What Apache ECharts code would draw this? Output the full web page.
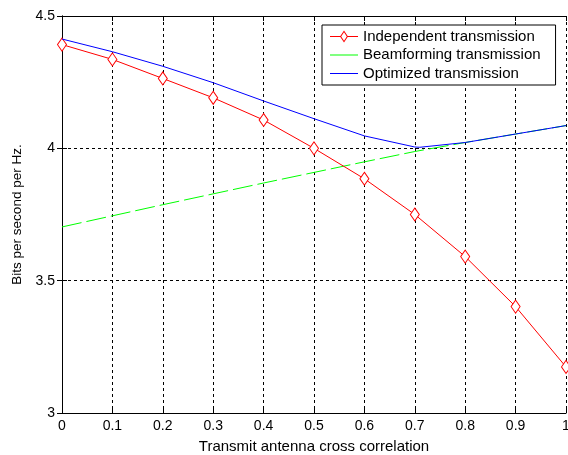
<!DOCTYPE html>
<html>
<head>
<meta charset="utf-8">
<script src="https://cdn.jsdelivr.net/npm/echarts@6/dist/echarts.min.js"></script>
<style>html,body{margin:0;padding:0;background:#fff;}#c{width:568px;height:455px;}</style>
</head>
<body>
<div id="c"></div>
<script>
var xs = [0, 0.1, 0.2, 0.3, 0.4, 0.5, 0.6, 0.7, 0.8, 0.9, 1.0];
var independent = [4.392, 4.336, 4.264, 4.191, 4.107, 4.000, 3.885, 3.750, 3.591, 3.402, 3.174];
var beamforming = [3.703, 3.745, 3.787, 3.828, 3.869, 3.909, 3.949, 3.988, 4.022, 4.054, 4.086];
var optimizedX = [0, 0.1, 0.2, 0.3, 0.4, 0.5, 0.6, 0.7, 0.71, 0.8, 0.9, 1.0];
var optimized = [4.413, 4.365, 4.310, 4.248, 4.179, 4.112, 4.047, 4.005, 4.004, 4.022, 4.054, 4.086];
var xTicks = ['0','0.1','0.2','0.3','0.4','0.5','0.6','0.7','0.8','0.9','1'];
var yTicks = ['3','3.5','4','4.5'];

function pairs(a, b) { return a.map(function (v, i) { return [v, b[i]]; }); }

var font = 'Arial, "Liberation Sans", sans-serif';
var lineIcon = 'path://M0,0 M28,14 M0,6.5 L28,6.5 L28,7.5 L0,7.5 Z';
var diamondIcon = 'path://M0,0 M28,14 M0,6.5 L10.4,6.5 L10.4,7.5 L0,7.5 Z ' +
  'M17.6,6.5 L28,6.5 L28,7.5 L17.6,7.5 Z ' +
  'M14,1 L18,7 L14,13 L10,7 Z M14,2.8 L11.2,7 L14,11.2 L16.8,7 Z';
var iconStyle = function (c) { return { color: c, borderWidth: 0, borderColor: 'transparent' }; };
var chart = echarts.init(document.getElementById('c'));
chart.setOption({
  animation: false,
  backgroundColor: '#fff',
  textStyle: { fontFamily: font },
  grid: { left: 62, right: 2, top: 16, bottom: 42, containLabel: false, outerBoundsMode: 'none' },
  legend: {
    orient: 'vertical',
    left: 322, top: 25,
    backgroundColor: '#fff',
    borderColor: '#000', borderWidth: 1, borderRadius: 0,
    padding: [4, 15, 4, 8],
    itemWidth: 28, itemHeight: 14, itemGap: 3.5,
    textStyle: { fontSize: 15, color: '#000', fontFamily: font },
    data: [
      { name: 'Independent transmission', icon: diamondIcon, itemStyle: iconStyle('#ff0000') },
      { name: 'Beamforming transmission', icon: lineIcon, itemStyle: iconStyle('#00ff00') },
      { name: 'Optimized transmission', icon: lineIcon, itemStyle: iconStyle('#0000ff') }
    ]
  },
  xAxis: [{
    type: 'value', min: 0, max: 1, interval: 0.1,
    name: 'Transmit antenna cross correlation', nameLocation: 'middle', nameGap: 26,
    nameTextStyle: { fontSize: 15, color: '#000', fontFamily: font },
    axisLine: { lineStyle: { color: '#000', width: 1 } },
    axisTick: { inside: true, length: 5, lineStyle: { color: '#000' } },
    axisLabel: { fontSize: 14, color: '#000', margin: 6, fontFamily: font,
      formatter: function (v) { return xTicks[Math.round(v * 10)]; } },
    splitLine: { show: true, lineStyle: { color: '#000', type: [3, 3], width: 1 } }
  }, {
    type: 'value', min: 0, max: 1, interval: 0.1, position: 'top',
    axisLine: { show: true, lineStyle: { color: '#000', width: 1 } },
    axisTick: { show: true, inside: true, length: 5, lineStyle: { color: '#000' } },
    axisLabel: { show: false }, splitLine: { show: false }
  }],
  yAxis: [{
    type: 'value', min: 3, max: 4.5, interval: 0.5,
    name: 'Bits per second per Hz.', nameLocation: 'middle', nameGap: 36,
    nameTextStyle: { fontSize: 13.5, color: '#000', fontFamily: font },
    axisLine: { show: true, lineStyle: { color: '#000', width: 1 } },
    axisTick: { show: true, inside: true, length: 5, lineStyle: { color: '#000' } },
    axisLabel: { fontSize: 14, color: '#000', margin: 7, fontFamily: font,
      formatter: function (v) { return yTicks[Math.round((v - 3) * 2)]; } },
    splitLine: { show: true, lineStyle: { color: '#000', type: [3, 3], width: 1 } }
  }, {
    type: 'value', min: 3, max: 4.5, interval: 0.5, position: 'right',
    axisLine: { show: true, lineStyle: { color: '#000', width: 1 } },
    axisTick: { show: true, inside: true, length: 5, lineStyle: { color: '#000' } },
    axisLabel: { show: false }, splitLine: { show: false }
  }],
  series: [{
    name: 'Independent transmission', type: 'line', z: 3,
    data: pairs(xs, independent),
    symbol: 'diamond', symbolSize: [9, 13], showAllSymbol: true,
    lineStyle: { color: '#ff0000', width: 1 },
    itemStyle: { color: '#ffffff', borderColor: '#ff0000', borderWidth: 1 }
  }, {
    name: 'Beamforming transmission', type: 'line', z: 2,
    data: pairs(xs, beamforming), symbol: 'none',
    lineStyle: { color: '#00ff00', width: 1, type: [20, 5] },
    itemStyle: { color: '#00ff00' }
  }, {
    name: 'Optimized transmission', type: 'line', z: 4,
    data: pairs(optimizedX, optimized), symbol: 'none',
    lineStyle: { color: '#0000ff', width: 1 },
    itemStyle: { color: '#0000ff' }
  }]
});
</script>
</body>
</html>
